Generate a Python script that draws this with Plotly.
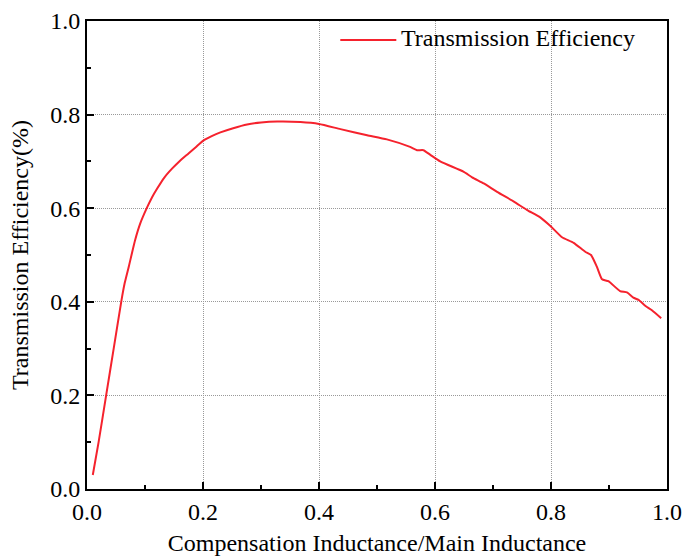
import plotly.graph_objects as go

# Inductance ratio (compensation / main) and resulting transmission efficiency
ratio = [0.010, 0.020, 0.033, 0.046, 0.059, 0.065, 0.072, 0.083, 0.092, 0.103,
         0.112, 0.121, 0.133, 0.147, 0.160, 0.175, 0.188, 0.200, 0.215, 0.230,
         0.252, 0.276, 0.300, 0.328, 0.368, 0.400, 0.437, 0.483, 0.517, 0.557,
         0.569, 0.580, 0.592, 0.609, 0.649, 0.664, 0.684, 0.707, 0.736, 0.759,
         0.782, 0.799, 0.819, 0.839, 0.859, 0.869, 0.879, 0.888, 0.899, 0.919,
         0.931, 0.942, 0.951, 0.963, 0.974, 0.990]
efficiency = [0.030, 0.100, 0.200, 0.300, 0.400, 0.440, 0.475, 0.532, 0.568, 0.600,
              0.623, 0.642, 0.665, 0.685, 0.701, 0.717, 0.731, 0.744, 0.754, 0.762,
              0.771, 0.779, 0.783, 0.785, 0.784, 0.780, 0.769, 0.756, 0.747, 0.731,
              0.724, 0.724, 0.714, 0.700, 0.678, 0.666, 0.653, 0.635, 0.614, 0.596,
              0.580, 0.562, 0.538, 0.526, 0.507, 0.500, 0.475, 0.448, 0.444, 0.423,
              0.420, 0.409, 0.404, 0.391, 0.382, 0.365]

tick_vals = [0.0, 0.2, 0.4, 0.6, 0.8, 1.0]
tick_text = ["0.0", "0.2", "0.4", "0.6", "0.8", "1.0"]

series_name = "Transmission Efficiency"
x_title = "Compensation Inductance/Main Inductance"
y_title = "Transmission Efficiency(%)"

FONT = "Liberation Serif, Times New Roman, serif"
LINE_COLOR = "#f5222d"
TICK_FONT = dict(family=FONT, size=24, color="black")

fig = go.Figure()
fig.add_trace(go.Scatter(
    x=ratio, y=efficiency, mode="lines", name=series_name,
    line=dict(color=LINE_COLOR, width=2, shape="spline", smoothing=0.5),
    showlegend=False,
))

axis_common = dict(
    range=[0, 1],
    automargin=False,
    tickmode="array",
    tickvals=tick_vals,
    ticktext=tick_text,
    ticks="inside",
    ticklen=7,
    tickwidth=2,
    tickcolor="black",
    showline=True,
    linecolor="black",
    linewidth=2,
    mirror=True,
    showgrid=True,
    gridcolor="#999999",
    gridwidth=1,
    griddash="1px,1px",
    zeroline=False,
    tickfont=TICK_FONT,
    minor=dict(tickmode="array", tickvals=[0.1, 0.3, 0.5, 0.7, 0.9],
               ticks="inside", ticklen=4, tickwidth=2, tickcolor="black",
               showgrid=False),
)

# x tick labels sit close under the axis line, so they are placed as annotations
fig.update_xaxes(**axis_common, showticklabels=False,
                 title=dict(text=x_title, font=dict(family=FONT, size=24, color="black"),
                            standoff=44))
fig.update_yaxes(**axis_common,
                 title=dict(text=y_title, font=dict(family=FONT, size=24, color="black"),
                            standoff=15))

for val, label in zip(tick_vals, tick_text):
    fig.add_annotation(xref="x", yref="paper", x=val, y=0,
                       xanchor="center", yanchor="top", yshift=-8,
                       showarrow=False, text=label, font=TICK_FONT)

# Legend sample line and label inside the plot area
fig.add_shape(type="line", xref="paper", yref="paper",
              x0=0.4367, x1=0.5333, y0=0.9594, y1=0.9594,
              line=dict(color=LINE_COLOR, width=2))
fig.add_annotation(xref="paper", yref="paper", x=0.5384, y=0.9594,
                   xanchor="left", yanchor="middle", showarrow=False,
                   yshift=2,
                   text=series_name,
                   font=dict(family=FONT, size=24, color="black"))

fig.update_layout(
    width=683, height=557,
    margin=dict(l=87, r=16, t=21, b=68),
    paper_bgcolor="white",
    plot_bgcolor="white",
    font=dict(family=FONT, size=24, color="black"),
)

fig.write_html("out.html")
